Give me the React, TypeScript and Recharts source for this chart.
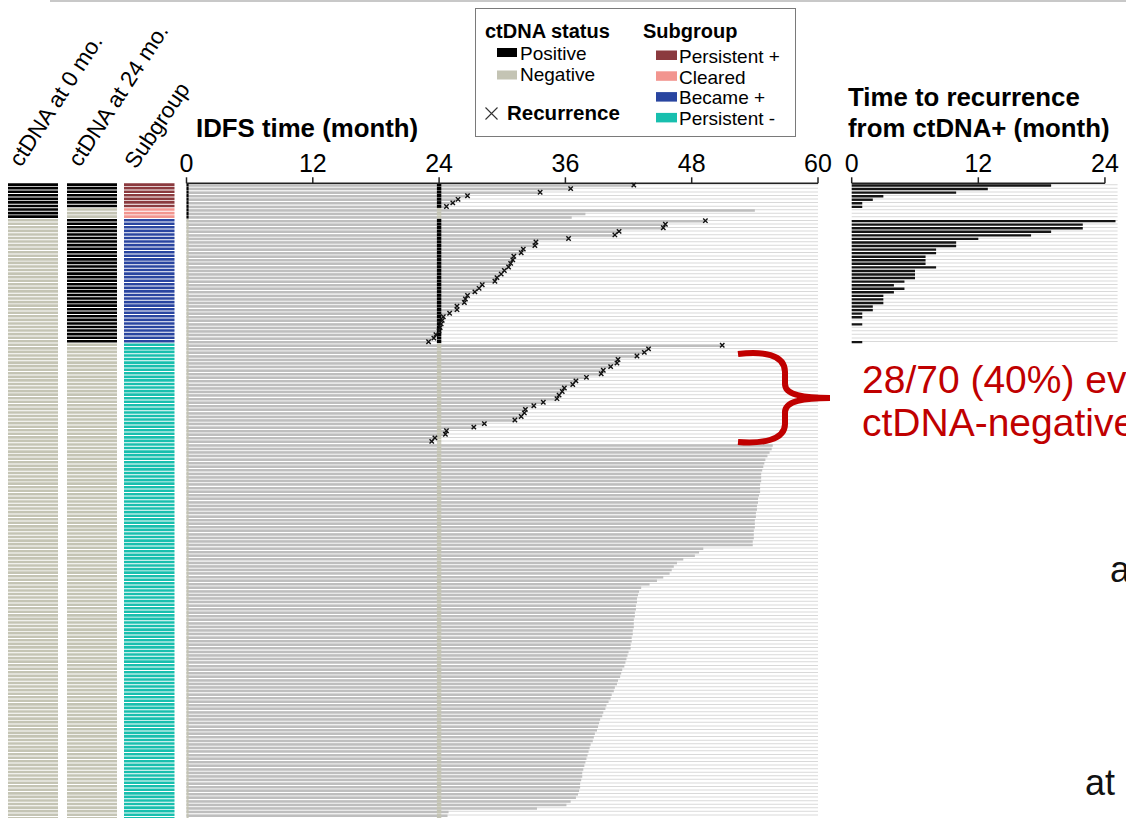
import React from 'react';
import { ComposedChart, BarChart, Bar, Line, XAxis, YAxis, Cell } from 'recharts';

// ---------------- data ----------------
// IDFS time (months) of each patient, grouped by subgroup (top to bottom)
const persistentPosEvent = [42.5, 36.5, 33.6, 26.7, 25.8, 25.3, 24.7];
const persistentPosTtr = [18.9, 12.9, 9.9, 3.0, 2.0, 1.0, 1.0];
const clearedCensored = [54.0, 37.9, 36.6];
const becamePosEvent = [
  49.3, 45.5, 45.3, 41.1, 40.7, 36.3, 33.2, 33.1, 32.0, 31.8,
  31.1, 31.0, 30.8, 30.6, 30.2, 29.9, 29.5, 29.3, 28.1, 27.8,
  27.4, 26.7, 26.5, 26.4, 25.7, 25.7, 25.0, 24.4, 24.3, 24.2,
  24.1, 24.0, 23.7, 23.5, 23.0,
];
const becamePosTtr: (number | null)[] = [
  25.0, 21.9, 21.9, 18.9, 17.0, 12.0, 9.9, 9.9, 8.0, 8.0,
  7.0, 7.0, 7.0, 8.0, 6.0, 6.0, 6.0, 5.0, 4.0, 5.0,
  4.0, 3.0, 3.0, 3.0, 2.0, 2.0, 1.0, 1.0, null, 1.0,
  null, null, null, null, 1.0,
];
const persistentNegEvent = [
  50.9, 43.9, 43.5, 42.8, 41.0, 40.9, 40.3, 39.6, 39.4, 38.0,
  37.0, 36.7, 35.9, 35.7, 35.4, 35.2, 33.9, 33.0, 32.2, 32.1,
  31.8, 31.2, 28.3, 27.3, 24.7, 24.6, 23.6, 23.3,
];
const persistentNegCensored = [
  55.7, 55.6, 55.4, 55.2, 55.0, 54.9, 54.8, 54.7, 54.6, 54.6,
  54.6, 54.5, 54.5, 54.5, 54.4, 54.3, 54.3, 54.2, 54.2, 54.1,
  54.1, 54.0, 54.0, 54.0, 53.9, 53.9, 53.9, 53.8, 53.8, 49.1,
  48.7, 48.3, 47.2, 46.6, 46.3, 46.1, 45.9, 45.3, 44.7, 44.0,
  43.2, 43.0, 42.9, 42.8, 42.8, 42.7, 42.7, 42.6, 42.6, 42.5,
  42.5, 42.5, 42.4, 42.4, 42.3, 42.3, 42.2, 42.2, 42.0, 41.9,
  41.8, 41.7, 41.6, 41.4, 41.3, 41.2, 41.0, 40.9, 40.7, 40.6,
  40.4, 40.3, 40.1, 39.9, 39.8, 39.6, 39.5, 39.3, 39.2, 39.1,
  39.0, 38.8, 38.7, 38.6, 38.4, 38.3, 38.2, 38.1, 38.0, 37.9,
  37.8, 37.7, 37.6, 37.6, 37.5, 37.4, 37.4, 37.3, 37.2, 37.0,
  36.5, 36.1, 33.3, 24.9, 24.8, 24.7,
];

const mainTicks = [0, 12, 24, 36, 48, 60];
const ttrTicks = [0, 12, 24];
const sampleMonths = [0, 24];
const MAIN_MAX = 60;
const TTR_MAX = 25.2;

const statusLegend = [
  { label: 'Positive', positive: true },
  { label: 'Negative', positive: false },
];
const subgroupLegend = ['Persistent +', 'Cleared', 'Became +', 'Persistent -'];

// ---------------- styles ----------------
const POS_COLOR = '#000000';
const NEG_COLOR = '#c4c4b4';
const IDFS_COLOR = '#bebebe';
const TRACK_COLOR = '#d9d9d9';
const subgroupColors: Record<string, string> = {
  'Persistent +': '#8b3a3e',
  Cleared: '#f2958f',
  'Became +': '#2945a0',
  'Persistent -': '#18bfae',
};

type Row = {
  id: number;
  group: string;
  idfs: number;
  rec: number | null;
  ttr: number | null;
  s0: boolean;
  s24: boolean;
  track: number;
  rtrack: number | null;
  m0: [number, number];
  m24: [number, number];
  one: number;
};

const M0_W = 0.2;
const M24_HALF = 0.21;

const rawRows: Omit<Row, 'id' | 'track' | 'rtrack' | 'm0' | 'm24' | 'one'>[] = [];
persistentPosEvent.forEach((v, i) =>
  rawRows.push({ group: 'Persistent +', idfs: v, rec: v, ttr: persistentPosTtr[i], s0: true, s24: true })
);
clearedCensored.forEach((v) =>
  rawRows.push({ group: 'Cleared', idfs: v, rec: null, ttr: null, s0: true, s24: false })
);
becamePosEvent.forEach((v, i) =>
  rawRows.push({ group: 'Became +', idfs: v, rec: v, ttr: becamePosTtr[i], s0: false, s24: true })
);
persistentNegEvent.forEach((v) =>
  rawRows.push({ group: 'Persistent -', idfs: v, rec: v, ttr: null, s0: false, s24: false })
);
persistentNegCensored.forEach((v) =>
  rawRows.push({ group: 'Persistent -', idfs: v, rec: null, ttr: null, s0: false, s24: false })
);

const rows: Row[] = rawRows.map((r, i) => ({
  ...r,
  id: i,
  track: MAIN_MAX,
  rtrack: r.group === 'Persistent -' ? null : TTR_MAX,
  m0: [sampleMonths[0], sampleMonths[0] + M0_W],
  m24: [sampleMonths[1] - M24_HALF, sampleMonths[1] + M24_HALF],
  one: 1,
}));

// ---------------- layout ----------------
const ROW_H = 3.56;
const N = rows.length;
const PLOT_TOP = 183.3;
const PLOT_H = N * ROW_H;
const CH = 826;
const MB = CH - PLOT_TOP - PLOT_H;
const AX_H = 40;
const FONT = "'Liberation Sans', Arial, Helvetica, sans-serif";

const axisStroke = { stroke: '#222', strokeWidth: 1.5 };
const tickStyle = { fontSize: 25, fill: '#000', fontFamily: FONT };

const R_LEFT = 21.7;
const R_RIGHT = 8.4;
const R_W = 296;
const rDash = ((R_W - R_LEFT - R_RIGHT) * ttrTicks[ttrTicks.length - 1]) / TTR_MAX;

const renderCross = (p: any) => {
  const k = `x-${p.index}`;
  if (p.cx == null || p.cy == null || p.payload == null || p.payload.rec == null) return <g key={k} />;
  const s = 2.2;
  return (
    <path
      key={k}
      d={`M${p.cx - s},${p.cy - s}L${p.cx + s},${p.cy + s}M${p.cx - s},${p.cy + s}L${p.cx + s},${p.cy - s}`}
      stroke="#111"
      strokeWidth={1.4}
      fill="none"
    />
  );
};

const StatusColumn = ({ left, width, colorOf }: { left: number; width: number; colorOf: (r: Row) => string }) => (
  <div style={{ position: 'absolute', left, top: 0 }}>
    <BarChart
      width={width}
      height={CH}
      data={rows}
      layout="vertical"
      margin={{ top: PLOT_TOP, left: 0, right: 0, bottom: MB }}
      barCategoryGap={0}
    >
      <XAxis type="number" domain={[0, 1]} hide />
      <YAxis type="category" dataKey="id" hide />
      <Bar dataKey="one" barSize={2.6} isAnimationActive={false}>
        {rows.map((r, i) => (
          <Cell key={i} fill={colorOf(r)} />
        ))}
      </Bar>
    </BarChart>
  </div>
);

const Legend = () => (
  <g>
    <rect x={475.5} y={8.5} width={320} height={128} fill="#fff" stroke="#7a7a7a" strokeWidth={1} />
    <text x={485} y={38} fontSize={20} fontWeight="bold">ctDNA status</text>
    {statusLegend.map((s, i) => (
      <g key={s.label}>
        <rect x={497} y={48 + i * 22.5} width={20} height={9} fill={s.positive ? POS_COLOR : NEG_COLOR} />
        <text x={520} y={59.5 + i * 21.5} fontSize={19}>{s.label}</text>
      </g>
    ))}
    <path d="M485.5,107.5L497.5,119.5M485.5,119.5L497.5,107.5" stroke="#333" strokeWidth={1.1} />
    <text x={507} y={120} fontSize={20.5} fontWeight="bold">Recurrence</text>
    <text x={643} y={38} fontSize={20} fontWeight="bold">Subgroup</text>
    {subgroupLegend.map((g, i) => (
      <g key={g}>
        <rect x={656} y={50.5 + i * 20.8} width={21} height={9.5} fill={subgroupColors[g]} />
        <text x={679} y={63 + i * 20.7} fontSize={19}>{g}</text>
      </g>
    ))}
  </g>
);

export default function App() {
  return (
    <div
      style={{
        position: 'absolute',
        left: 0,
        top: 0,
        width: 1126,
        height: 818,
        overflow: 'hidden',
        background: '#fff',
        fontFamily: FONT,
      }}
    >
      <StatusColumn left={7.5} width={50.5} colorOf={(r) => (r.s0 ? POS_COLOR : NEG_COLOR)} />
      <StatusColumn left={66.5} width={50.5} colorOf={(r) => (r.s24 ? POS_COLOR : NEG_COLOR)} />
      <StatusColumn left={124} width={50.5} colorOf={(r) => subgroupColors[r.group]} />

      {/* main IDFS panel */}
      <div style={{ position: 'absolute', left: 0, top: 0 }}>
        <ComposedChart
          width={840}
          height={CH}
          data={rows}
          layout="vertical"
          margin={{ top: PLOT_TOP - AX_H, left: 186.5, right: 22, bottom: MB }}
          barCategoryGap={0}
          barGap={0}
        >
          <XAxis
            type="number"
            domain={[0, MAIN_MAX]}
            ticks={mainTicks}
            orientation="top"
            height={AX_H}
            interval={0}
            tickSize={6}
            tickMargin={5}
            axisLine={axisStroke}
            tickLine={axisStroke}
            tick={tickStyle}
          />
          <YAxis yAxisId="t" type="category" dataKey="id" hide />
          <YAxis yAxisId="b" type="category" dataKey="id" hide />
          <YAxis yAxisId="m0" type="category" dataKey="id" hide />
          <YAxis yAxisId="m24" type="category" dataKey="id" hide />
          <Bar yAxisId="t" dataKey="track" barSize={1} fill={TRACK_COLOR} isAnimationActive={false} />
          <Bar yAxisId="b" dataKey="idfs" barSize={2.5} fill={IDFS_COLOR} isAnimationActive={false} />
          <Bar yAxisId="m0" dataKey="m0" barSize={3.7} isAnimationActive={false}>
            {rows.map((r, i) => (
              <Cell key={i} fill={r.s0 ? POS_COLOR : NEG_COLOR} />
            ))}
          </Bar>
          <Bar yAxisId="m24" dataKey="m24" barSize={3.7} isAnimationActive={false}>
            {rows.map((r, i) => (
              <Cell key={i} fill={r.s24 ? POS_COLOR : NEG_COLOR} />
            ))}
          </Bar>
          <Line
            yAxisId="b"
            dataKey="rec"
            stroke="none"
            dot={renderCross}
            activeDot={false}
            isAnimationActive={false}
          />
        </ComposedChart>
      </div>

      {/* time to recurrence panel */}
      <div style={{ position: 'absolute', left: 830, top: 0 }}>
        <ComposedChart
          width={R_W}
          height={CH}
          data={rows}
          layout="vertical"
          margin={{ top: PLOT_TOP - AX_H, left: R_LEFT, right: R_RIGHT, bottom: MB }}
          barCategoryGap={0}
        >
          <XAxis
            type="number"
            domain={[0, TTR_MAX]}
            ticks={ttrTicks}
            orientation="top"
            height={AX_H}
            interval={0}
            tickSize={6}
            tickMargin={5}
            axisLine={{ ...axisStroke, strokeDasharray: `${rDash} 2000` }}
            tickLine={axisStroke}
            tick={tickStyle}
          />
          <YAxis yAxisId="t" type="category" dataKey="id" hide />
          <YAxis
            yAxisId="b"
            type="category"
            dataKey="id"
            width={0}
            tick={false}
            tickLine={false}
            axisLine={axisStroke}
          />
          <Bar yAxisId="t" dataKey="rtrack" barSize={1} fill={TRACK_COLOR} isAnimationActive={false} />
          <Bar yAxisId="b" dataKey="ttr" barSize={2.4} fill="#151515" isAnimationActive={false} />
        </ComposedChart>
      </div>

      {/* titles, legend and annotations */}
      <svg
        width={1126}
        height={818}
        style={{ position: 'absolute', left: 0, top: 0, pointerEvents: 'none', fontFamily: FONT }}
      >
        <line x1={50} y1={1} x2={1126} y2={1} stroke="#c8c8c8" strokeWidth={2} />
        <text transform="translate(21,168) rotate(-57)" fontSize={22.5}>ctDNA at 0 mo.</text>
        <text transform="translate(80,168) rotate(-57)" fontSize={22.5}>ctDNA at 24 mo.</text>
        <text transform="translate(136,170) rotate(-56)" fontSize={22.5}>Subgroup</text>
        <text x={196} y={137} fontSize={25.8} fontWeight="bold">IDFS time (month)</text>
        <text x={848} y={106} fontSize={25.8} fontWeight="bold">Time to recurrence</text>
        <text x={848} y={137} fontSize={25.8} fontWeight="bold">from ctDNA+ (month)</text>
        <Legend />
        <path
          d="M738,354 C762,351 785,354 785,372 L785,384 C785,394 800,398 830,398 C800,398 785,402 785,412 L785,424 C785,440 762,444 738,442"
          stroke="#c00000"
          strokeWidth={6}
          fill="none"
        />
        <text x={862} y={393} fontSize={39} fill="#c00000">28/70 (40%) ev</text>
        <text x={862} y={436} fontSize={39} fill="#c00000">ctDNA-negative</text>
        <text x={1110} y={582} fontSize={36} fill="#111">a</text>
        <text x={1085} y={795} fontSize={36} fill="#111">at</text>
      </svg>
    </div>
  );
}
